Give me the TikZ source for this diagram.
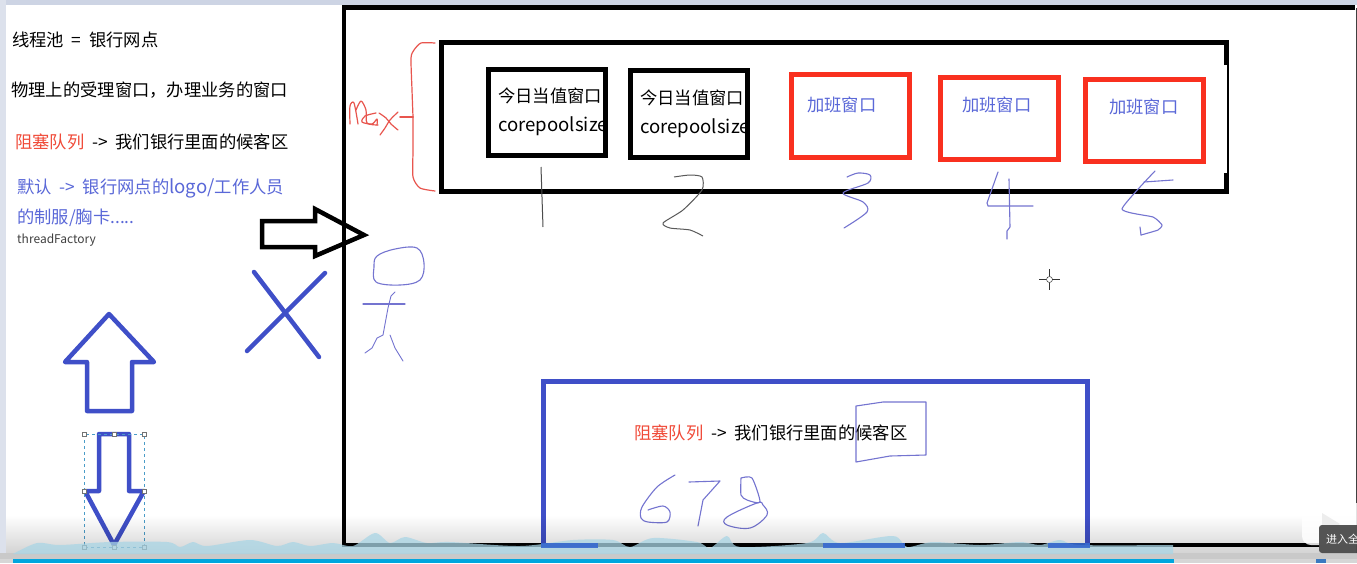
\documentclass[tikz,border=0pt]{standalone}
\usepackage{fontspec}
\setmainfont[WordSpace=2]{Noto Sans CJK SC}
\definecolor{inkblue}{HTML}{3F4FC8}
\definecolor{txtblue}{HTML}{5A68D8}
\definecolor{penblue}{HTML}{7474D0}
\definecolor{redbox}{HTML}{F9301F}
\definecolor{txtred}{HTML}{F04A38}
\definecolor{penred}{HTML}{E8554E}
\definecolor{frame}{HTML}{CDD4E4}
\definecolor{wavec}{HTML}{A9D5E5}
\definecolor{barblue}{HTML}{00A6DE}
\definecolor{knob}{HTML}{3A79C0}
\definecolor{seldash}{HTML}{4A9CC8}
\newcommand{\latinbig}[1]{{\fontsize{18.6}{20}\selectfont #1}}
\tikzset{
  lbl/.style={inner sep=0pt,anchor=west,font=\fontsize{17.3}{20}\selectfont},
  smalllbl/.style={inner sep=0pt,anchor=west,font=\fontsize{12}{14}\selectfont,text=black!75},
  blackbox/.style={draw=black,line width=5pt},
  redwin/.style={draw=redbox,line width=5pt},
  thickblue/.style={draw=inkblue,line width=4.5pt,line join=round,line cap=round},
  pen/.style={draw=penblue,line width=1.1pt,line join=round,line cap=round},
  redpen/.style={draw=penred,line width=1.2pt,line join=round,line cap=round},
  handle/.style={draw=black!55,fill=white,line width=.7pt,minimum size=4pt,inner sep=0pt,rectangle},
}
\begin{document}
\begin{tikzpicture}[x=1pt,y=-1pt]
\useasboundingbox (0,0) rectangle (1357,563);
\clip (0,0) rectangle (1357,563);
\fill[white] (0,0) rectangle (1357,563);
% window frame
\fill[frame] (0,0) rectangle (1357,5);
\fill[frame!70!white] (0,0) rectangle (6,563);
\fill[black!75] (1355.5,8) rectangle (1357,563);
% big frame
\draw[black,line width=4.5pt] (1355,7.3) -- (344,7.3) -- (344,545) -- (1320,545);
% top row container
\draw[black,line width=5pt] (1226,65) -- (1226,42.5) -- (441,42.5) -- (441,191.5) -- (1226,191.5) -- (1226,173);
\draw[black,line width=2pt] (1227.5,64) -- (1227.5,174);
% windows
\draw[blackbox] (488.5,69.5) rectangle (605.5,155);
\draw[blackbox] (630.5,70.5) rectangle (747.5,157);
\draw[redwin] (791.5,74.5) rectangle (909.5,157.5);
\draw[redwin] (940.5,77.5) rectangle (1058.5,159.5);
\draw[redwin] (1085.5,79.5) rectangle (1203.5,161.5);
\node[lbl] (t1) at (498,96) {今日当值窗口};
\node[lbl] (t1b) at (498,126) {\latinbig{corepoolsize}};
\node[lbl] (t2) at (640,98) {今日当值窗口};
\node[lbl] (t2b) at (640,128) {\latinbig{corepoolsize}};
\node[lbl,text=txtblue] (t3) at (807,105) {加班窗口};
\node[lbl,text=txtblue] (t4) at (962,105) {加班窗口};
\node[lbl,text=txtblue] (t5) at (1109,107) {加班窗口};
% left texts
\node[lbl] (a) at (12,40) {线程池 = 银行网点};
\node[lbl] (b) at (11,90) {物理上的受理窗口，办理业务的窗口};
\node[lbl] (c) at (15,142) {\textcolor{txtred}{阻塞队列} -> 我们银行里面的候客区};
\node[lbl,text=txtblue] (d) at (17,188) {默认 -> 银行网点的\latinbig{logo/}工作人员};
\node[lbl,text=txtblue] (e) at (17,218) {的制服/胸卡.....};
\node[smalllbl] (f) at (17,240) {threadFactory};
% black arrow
\draw[black,line width=4.5pt,line join=miter] (262,221) -- (315,221) -- (315,209) -- (364,235) -- (315,256) -- (315,247) -- (262,247) -- cycle;
% blue arrows and X
\draw[thickblue] (109,314) -- (154,362) -- (132,362) -- (132,411) -- (87,411) -- (87,362) -- (65,362) -- cycle;
\draw[thickblue] (99,434) -- (129,434) -- (129,491) -- (144,491) -- (114,545) -- (85,491) -- (99,491) -- cycle;
\draw[thickblue] (247,351) -- (325,273);
\draw[thickblue] (254,272) -- (319,357);
% selection
\draw[draw=seldash,line width=.7pt,dash pattern=on 3pt off 3pt] (84,434) rectangle (144.5,547);
\foreach \hx/\hy in {84/434,114/434,144.5/434,84/491,144.5/491,84/547,114/547,144.5/547}
  \node[handle] at (\hx,\hy) {};
% person
\draw[pen] plot[smooth cycle,tension=.6] coordinates {(377,256) (395,249) (417,248) (424,263) (420,280) (400,285) (376,282) (374,267)};
\draw[pen] (363,304) -- (405,304);
\draw[pen,line width=.9pt] (395,292) -- (391,296) -- (388,308) -- (383,335) -- (377,338) -- (372,348) -- (365,353);
\draw[pen,line width=.9pt] (390,335) -- (395,348) -- (403,361);
% brace and max
\draw[redpen] plot[smooth,tension=.4] coordinates {(435,43) (421,43) (414,50) (411,58) (412,90) (413,117)};
\draw[redpen] plot[smooth,tension=.4] coordinates {(413,117) (413,150) (413,177) (420,188) (435,191)};
\draw[redpen,line width=1.6pt] (400,117) -- (413,117);
\draw[redpen] plot[smooth,tension=.5] coordinates {(350,124) (350,106) (354,103) (358,124)};
\draw[redpen] plot[smooth,tension=.5] coordinates {(356,110) (361,101) (366,110) (367,123) (378,125)};
\draw[redpen] plot[smooth,tension=.5] coordinates {(376,113) (365,116) (362,122) (372,124) (377,119) (377,125)};
\draw[redpen] plot[smooth,tension=.5] coordinates {(379,113) (386,118) (391,124) (398,130)};
\draw[redpen] plot[smooth,tension=.5] coordinates {(398,112) (390,120) (385,128) (380,135)};
% digits
\draw[black!70,line width=1pt] (541,167) -- (543,227);
\draw[black!65,line width=1pt,line join=round] plot[smooth,tension=.4] coordinates {(674,177) (690,175) (702,177) (702,190) (683,210) (663,223) (670,228) (690,230) (703,236)};
\draw[pen] plot[smooth,tension=.5] coordinates {(847,177) (858,173) (870,175) (868,183) (843,193) (863,202) (867,212) (844,228)};
\draw[pen] (998,172) -- (987,203) -- (988,206) -- (1033,206);
\draw[pen] (1009,179) -- (1010,227) -- (1007,231) -- (1007,239);
\draw[pen] (1144,182) -- (1173,180);
\draw[pen] plot[smooth,tension=.3] coordinates {(1155,171) (1122,209) (1153,217) (1162,225) (1158,230) (1141,235)};
\draw[pen] (1141,235) -- (1140,227);
% crosshair
\draw[black!80,line width=.8pt] (1039,279.5) -- (1046,279.5) (1052,279.5) -- (1060,279.5) (1049.5,269) -- (1049.5,276) (1049.5,283) -- (1049.5,290);
\draw[black!80,line width=.5pt] (1049.5,279.5) circle[radius=3pt];
% queue box
\draw[inkblue,line width=5pt] (543.5,545) -- (543.5,381) -- (1087.5,381) -- (1087.5,545);
\node[lbl] (q) at (634,433) {\textcolor{txtred}{阻塞队列} -> 我们银行里面的候客区};
\draw[pen] (856,406) -- (883,402) -- (926,402) -- (926,455) -- (890,456) -- (856,462) -- cycle;
\draw[pen] plot[smooth,tension=.5] coordinates {(675,475) (657,487) (642,507) (641,518) (648,522) (667,522) (670,512) (663,506) (648,510)};
\draw[pen] (689,482) -- (720,481) -- (703,500) -- (698,526);
\draw[pen] plot[smooth,tension=.4] coordinates {(741,478) (752,478) (760,502) (747,500) (741,495) (741,478)};
\draw[pen] plot[smooth cycle,tension=.6] coordinates {(757,503) (727,517) (727,525) (750,528) (767,515) (763,505)};
% player overlay
\foreach \i in {0,...,37}{
  \pgfmathsetmacro\ov{\i*0.0045}
  \fill[black,opacity=\ov] (6,515+\i) rectangle (1357,516+\i);
}
\fill[black!21] (0,553) rectangle (1357,559);
\fill[black!16] (0,559) rectangle (1357,563);
\fill[wavec,opacity=.75] plot[smooth,tension=.5] coordinates {(13,554) (37,543) (60,545) (110,542) (167,542) (180,547) (193,542) (207,546) (250,540) (277,546) (293,542) (310,546) (333,543) (353,546) (375,533) (390,543) (405,537) (427,543) (450,542) (520,546) (573,540) (613,540) (630,547) (653,538) (697,542) (710,548) (727,536) (740,547) (807,543) (823,533) (840,543) (893,536) (907,547) (933,542) (980,545) (1020,542) (1040,545) (1060,540) (1080,545) (1173,545)} -- (1173,554) -- (13,554) -- cycle;
\fill[inkblue!85!cyan,opacity=.9] (541,543) rectangle (598,548);
\fill[inkblue!85!cyan,opacity=.9] (823,543) rectangle (905,548);
\fill[inkblue!85!cyan,opacity=.9] (1048,543) rectangle (1090,548);
\fill[barblue] (13,559) rectangle (1174,563);
\fill[knob] (1316,559) rectangle (1326,563);
% player button
\fill[white,opacity=.85,rounded corners=9pt] (1302,503) rectangle (1370,545);
\draw[white,line width=4pt,line cap=round,opacity=.85] (1318,496) -- (1325,503) (1342,496) -- (1335,503);
\fill[black!7] (1322,513) -- (1340,524) -- (1322,540) -- cycle;
\fill[black!70,opacity=.95,rounded corners=3pt] (1319,525) rectangle (1365,553);
\node[inner sep=0pt,anchor=west,text=white,font=\fontsize{11}{13}\selectfont] (tip) at (1326,539) {进入全};
\end{tikzpicture}
\end{document}
